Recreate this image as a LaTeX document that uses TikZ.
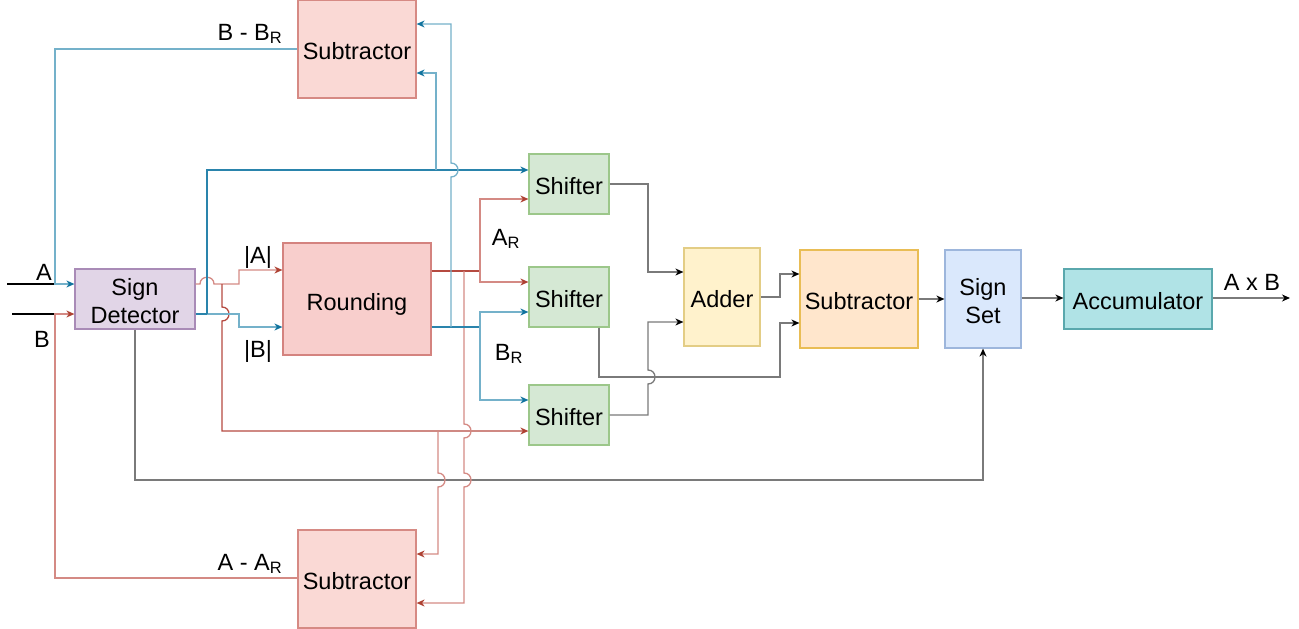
\documentclass[tikz,border=0pt]{standalone}
\usepackage{fontspec}
\setmainfont{Liberation Sans}
\usetikzlibrary{arrows.meta}
\definecolor{bluD}{HTML}{2A84AC}
\definecolor{bluL}{HTML}{74B1CA}
\definecolor{bluT}{HTML}{10739E}
\definecolor{redD}{HTML}{B54A40}
\definecolor{redL}{HTML}{D48A84}
\definecolor{redT}{HTML}{AE4132}
\definecolor{grayL}{HTML}{7A7A7A}
\definecolor{sdF}{HTML}{E1D5E7}\definecolor{sdS}{HTML}{A98BB7}
\definecolor{subF}{HTML}{FAD9D5}\definecolor{subS}{HTML}{D68A84}
\definecolor{rndF}{HTML}{F8CECC}\definecolor{rndS}{HTML}{D4837F}
\definecolor{shF}{HTML}{D5E8D4}\definecolor{shS}{HTML}{9CC78A}
\definecolor{addF}{HTML}{FFF2CC}\definecolor{addS}{HTML}{E3CD85}
\definecolor{smF}{HTML}{FFE6CC}\definecolor{smS}{HTML}{E9BD55}
\definecolor{ssF}{HTML}{DAE8FC}\definecolor{ssS}{HTML}{9DB6DC}
\definecolor{accF}{HTML}{B0E3E6}\definecolor{accS}{HTML}{5AA8AD}
\begin{document}
\begin{tikzpicture}[x=1pt,y=-1pt,
  font=\fontsize{23.5}{27.5}\selectfont,
  box/.style={draw, line width=1.2pt, inner sep=0pt, align=center, anchor=center, text height=22pt},
  twoline/.style={text height=49pt},
  lbl/.style={anchor=base, inner sep=0pt},
  wire/.style={line width=1.3pt, line join=miter},
  arrB/.style={-{Stealth[length=8pt,width=7pt,inset=2.5pt,color=bluT]}},
  arrR/.style={-{Stealth[length=8pt,width=7pt,inset=2.5pt,color=redT]}},
  arrK/.style={-{Stealth[length=8pt,width=7pt,inset=2.5pt,color=black]}}]
\useasboundingbox (0,0) rectangle (1299,629);

% boxes
\node[box, fill=subF, draw=subS, minimum width=118pt, minimum height=98pt] (subT) at (357,49) {Subtractor};
\node[box, twoline, fill=sdF, draw=sdS, minimum width=120pt, minimum height=60pt] (sd) at (135,299) {Sign\\Detector};
\node[box, fill=rndF, draw=rndS, minimum width=148pt, minimum height=112pt, text depth=0pt] (rnd) at (357,299) {Rounding};
\node[box, fill=shF, draw=shS, minimum width=80pt, minimum height=60pt] (sh1) at (569,184) {Shifter};
\node[box, fill=shF, draw=shS, minimum width=80pt, minimum height=60pt] (sh2) at (569,297) {Shifter};
\node[box, fill=shF, draw=shS, minimum width=80pt, minimum height=60pt] (sh3) at (569,415) {Shifter};
\node[box, fill=addF, draw=addS, minimum width=76pt, minimum height=98pt] (add) at (722,297) {Adder};
\node[box, fill=smF, draw=smS, minimum width=118pt, minimum height=98pt] (subM) at (859,299) {Subtractor};
\node[box, twoline, fill=ssF, draw=ssS, minimum width=76pt, minimum height=98pt] (ss) at (983,299) {Sign\\Set};
\node[box, fill=accF, draw=accS, minimum width=148pt, minimum height=60pt] (acc) at (1138,299) {Accumulator};
\node[box, fill=subF, draw=subS, minimum width=118pt, minimum height=98pt] (subB) at (357,579) {Subtractor};

% free ends
\coordinate (ainL) at (7,284);
\coordinate (binL) at (12,314);
\coordinate (outR) at (1290,298);

% inputs
\draw[wire, black] (ainL) -- (55,284);
\draw[wire, black] (binL) -- (55,314);
\draw[wire, bluL, arrB] (subT.west |- 0,49) -- (55,49) -- (55,284) -- (sd.west |- 0,284);
\draw[wire, redL, arrR] (subB.west |- 0,578) -- (55,578) -- (55,314) -- (sd.west |- 0,314);

% sign detector -> sign set
\draw[wire, grayL, arrK] (sd.south) -- (135,480) -- (983,480) -- (ss.south);

% |A|
\draw[wire, redL, arrR] (sd.east |- 0,284) -- (200,284)
   .. controls (200,275) and (214,275) .. (214,284) -- (239,284) -- (239,270) -- (rnd.west |- 0,270);
\draw[wire, redD, arrR] (222,284) -- (222,307) .. controls (231.3,307) and (231.3,321) .. (222,321)
   -- (222,431) -- (sh3.west |- 0,431);
\draw[wire, redL, arrR] (438,431) -- (438,473) .. controls (447.3,473) and (447.3,487) .. (438,487)
   -- (438,554) -- (subB.east |- 0,554);

% |B|
\draw[wire, bluL, arrB] (sd.east |- 0,314) -- (239,314) -- (239,327) -- (rnd.west |- 0,327);
\draw[wire, bluD] (sd.east |- 0,314) -- (207,314);
\draw[wire, bluD, arrB] (207,314) -- (207,170) -- (sh1.west |- 0,170);
\draw[wire, bluL, arrB] (436,170) -- (436,73) -- (subT.east |- 0,73);

% A_R
\draw[wire, redD] (rnd.east |- 0,271) -- (480,271);
\draw[wire, redL, arrR] (480,271) -- (480,199) -- (sh1.west |- 0,199);
\draw[wire, redL, arrR] (480,271) -- (480,282) -- (sh2.west |- 0,282);
\draw[wire, redL, arrR] (464,271) -- (464,424) .. controls (473.3,424) and (473.3,438) .. (464,438)
   -- (464,473) .. controls (473.3,473) and (473.3,487) .. (464,487) -- (464,603) -- (subB.east |- 0,603);

% B_R
\draw[wire, bluD] (rnd.east |- 0,327) -- (480,327);
\draw[wire, bluL, arrB] (480,327) -- (480,312) -- (sh2.west |- 0,312);
\draw[wire, bluL, arrB] (480,327) -- (480,400) -- (sh3.west |- 0,400);
\draw[wire, bluL, arrB] (451,327) -- (451,177) .. controls (460.3,177) and (460.3,163) .. (451,163)
   -- (451,24) -- (subT.east |- 0,24);

% shifters -> adder / subtractor
\draw[wire, grayL, arrK] (sh1.east) -- (648,184) -- (648,272) -- (add.west |- 0,272);
\draw[wire, grayL, arrK] (sh3.east) -- (648,415) -- (648,384) .. controls (657.3,384) and (657.3,370) .. (648,370)
   -- (648,322) -- (add.west |- 0,322);
\draw[wire, grayL, arrK] (sh2.south -| 599,0) -- (599,377) -- (780,377) -- (780,323) -- (subM.west |- 0,323);
\draw[wire, grayL, arrK] (add.east) -- (780,297) -- (780,274) -- (subM.west |- 0,274);
\draw[wire, grayL, arrK] (subM.east) -- (ss.west |- subM.east);
\draw[wire, grayL, arrK] (ss.east |- 0,298) -- (acc.west |- 0,298);
\draw[wire, grayL, arrK] (acc.east |- 0,298) -- (outR);

% labels
\node[lbl] (lA) at (44,280) {A};
\node[lbl] (lB) at (42,347) {B};
\node[lbl] (lAbs) at (258,263) {|A|};
\node[lbl] (lBbs) at (258,357) {|B|};
\node[lbl] (lAR) at (506,245) {A\textsubscript{R}};
\node[lbl] (lBR) at (509,360) {B\textsubscript{R}};
\node[lbl] (lBBR) at (250,40) {B - B\textsubscript{R}};
\node[lbl] (lAAR) at (250,570) {A - A\textsubscript{R}};
\node[lbl] (lAxB) at (1252,290) {A x B};
\end{tikzpicture}
\end{document}
